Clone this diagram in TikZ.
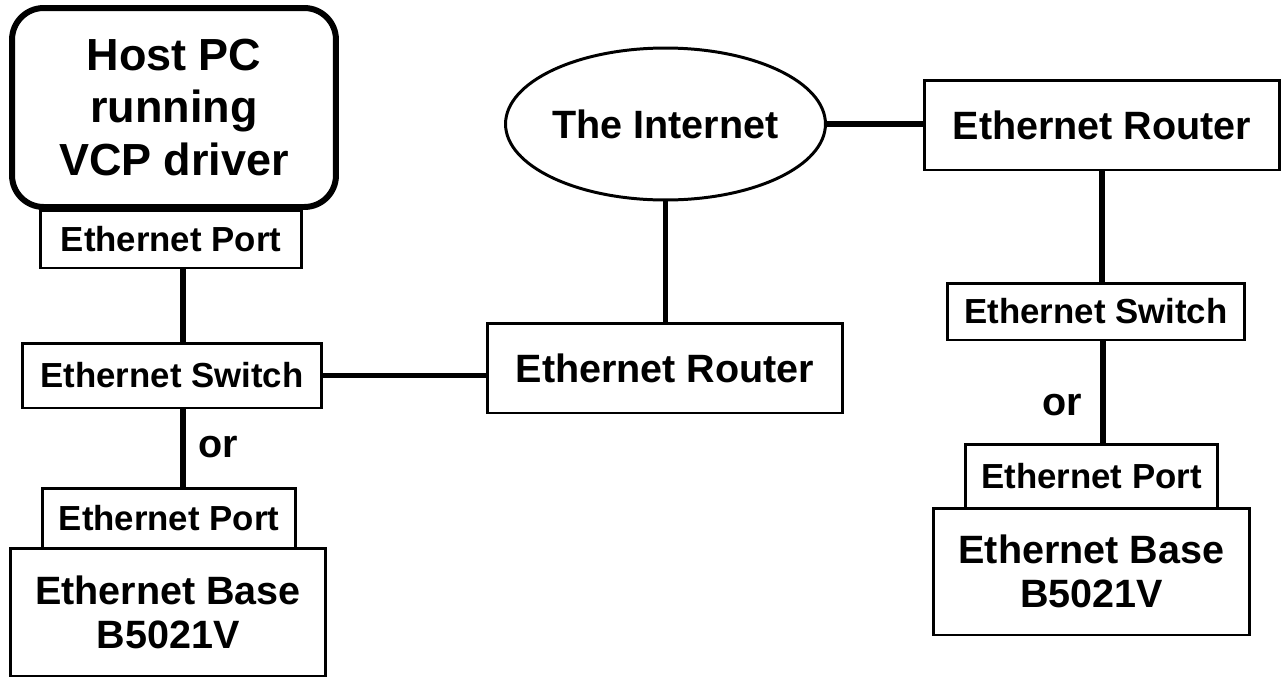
\documentclass[tikz,border=0pt]{standalone}
\usepackage{fontspec}
\setmainfont{Liberation Sans}
\usetikzlibrary{shapes.geometric}

\tikzset{
    box/.style={draw, line width=1.7pt, inner sep=0pt, align=center},
    wire/.style={line width=3.4pt},
    big/.style={font=\bfseries\fontsize{22.5}{25}\selectfont},
    small/.style={font=\bfseries\fontsize{19.8}{24}\selectfont},
}

\begin{document}
\begin{tikzpicture}[x=0.02cm,y=-0.02cm]
    \useasboundingbox (0,0) rectangle (1282,677);
    % left column
    \node[box, line width=3.4pt, rounded corners=18pt, minimum width=6.48cm, minimum height=3.98cm,
          font=\bfseries\fontsize{25.6}{30}\selectfont] (host) at (174,107.5) {Host PC\\running\\VCP driver};
    \node[box, small, minimum width=5.24cm, minimum height=1.16cm] (portA) at (171,239) {Ethernet Port};
    \node[box, small, minimum width=6.0cm, minimum height=1.3cm] (switchA) at (172,375.5) {Ethernet Switch};
    \node[box, small, minimum width=5.08cm, minimum height=1.2cm] (portC) at (169,518) {Ethernet Port};
    \node[box, big, minimum width=6.32cm, minimum height=2.56cm] (baseA) at (168,612) {Ethernet Base\\B5021V};
    \node[big] (orA) at (218,447) {or};
    % middle
    \node[box, big, minimum width=7.12cm, minimum height=1.8cm] (router) at (665,368) {Ethernet Router};
    \node[box, big, ellipse, minimum width=6.18cm, minimum height=3.04cm] (inet) at (665.5,124) {The Internet};
    % right column
    \node[box, big, minimum width=7.12cm, minimum height=1.8cm] (routerB) at (1102,125) {Ethernet Router};
    \node[box, small, minimum width=5.96cm, minimum height=1.14cm] (switchB) at (1096,311.5) {Ethernet Switch};
    \node[box, small, minimum width=5.06cm, minimum height=1.28cm] (portB) at (1091.5,476) {Ethernet Port};
    \node[box, big, minimum width=6.34cm, minimum height=2.54cm] (baseB) at (1091.5,571.5) {Ethernet Base\\B5021V};
    \node[big] (orB) at (1062,405) {or};

    % wires
    \draw[wire] ([xshift=0.24cm]portA.south) -- ([xshift=0.24cm]portA.south |- switchA.north);
    \draw[wire] ([xshift=0.22cm]switchA.south) -- ([xshift=0.22cm]switchA.south |- portC.north);
    \draw[wire] (switchA.east) -- (switchA.east -| router.west);
    \draw[wire] (inet.south) -- (inet.south |- router.north);
    \draw[wire] (inet.east) -- (inet.east -| routerB.west);
    \draw[wire] (routerB.south) -- (routerB.south |- switchB.north);
    \draw[wire] ([xshift=0.14cm]switchB.south) -- ([xshift=0.14cm]switchB.south |- portB.north);
\end{tikzpicture}
\end{document}
